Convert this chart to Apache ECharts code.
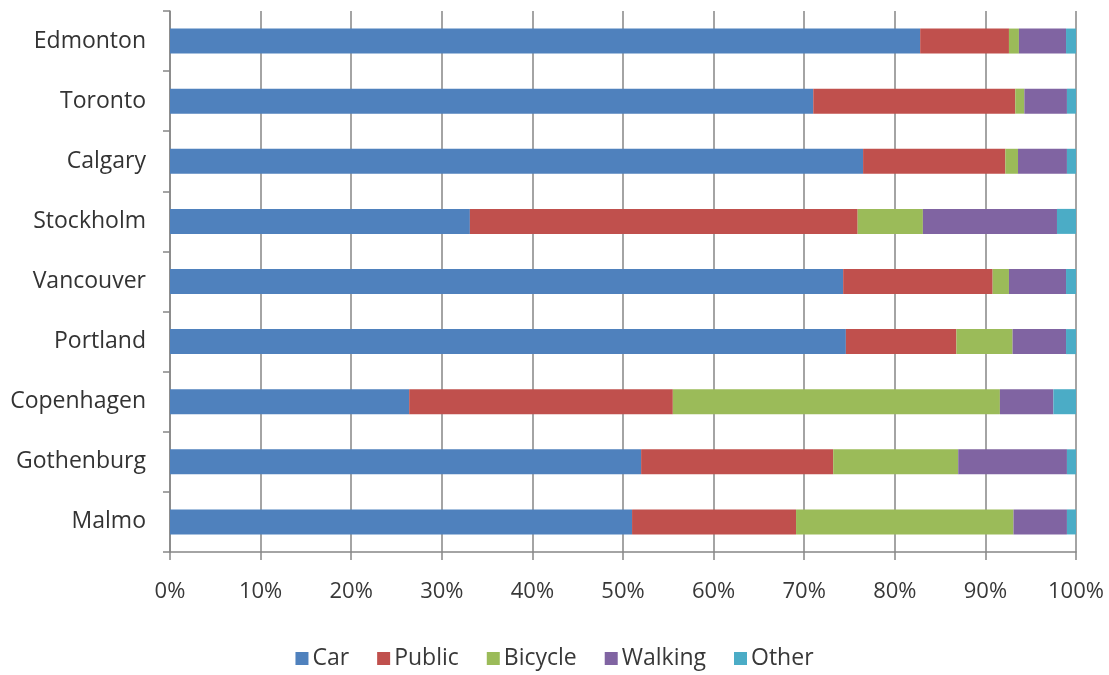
<!DOCTYPE html>
<html>
<head>
<meta charset="utf-8">
<script src="https://cdn.jsdelivr.net/npm/echarts@6/dist/echarts.min.js"></script>
<style>
  html, body { margin: 0; padding: 0; background: #ffffff; }
  #chart { width: 1109px; height: 675px; }
</style>
</head>
<body>
<div id="chart"></div>
<script>
// Modal split of trips by city (percent of trips)
const cities = ['Edmonton', 'Toronto', 'Calgary', 'Stockholm', 'Vancouver', 'Portland', 'Copenhagen', 'Gothenburg', 'Malmo'];
const car     = [82.8, 71.0, 76.5, 33.1, 74.3, 74.6, 26.4, 52.0, 51.0];
const publicT = [ 9.8, 22.3, 15.7, 42.8, 16.5, 12.2, 29.1, 21.2, 18.1];
const bicycle = [ 1.1,  1.0,  1.4,  7.2,  1.8,  6.2, 36.1, 13.8, 24.0];
const walking = [ 5.2,  4.7,  5.4, 14.8,  6.3,  5.9,  5.9, 12.0,  5.9];
const other   = [ 1.1,  1.0,  1.0,  2.1,  1.1,  1.1,  2.5,  1.0,  1.0];
const xTicks = [0, 10, 20, 30, 40, 50, 60, 70, 80, 90, 100];

const seriesDefs = [
  { name: 'Car',     data: car,     color: '#4F81BD' },
  { name: 'Public',  data: publicT, color: '#C0504D' },
  { name: 'Bicycle', data: bicycle, color: '#9BBB59' },
  { name: 'Walking', data: walking, color: '#8064A2' },
  { name: 'Other',   data: other,   color: '#4BACC6' }
];

const font = '"Open Sans", Lato, sans-serif';
const chart = echarts.init(document.getElementById('chart'), null, { renderer: 'canvas' });

chart.setOption({
  animation: false,
  backgroundColor: '#ffffff',
  grid: { left: 170, right: 33, top: 11, bottom: 123, containLabel: false },
  legend: {
    bottom: 0,
    left: 'center',
    icon: 'rect',
    itemWidth: 13,
    itemHeight: 13,
    itemGap: 28,
    textStyle: { fontFamily: font, fontSize: 23, color: '#383838', padding: [0, 0, 0, -1] },
    data: seriesDefs.map(s => s.name)
  },
  xAxis: {
    type: 'value',
    min: xTicks[0],
    max: xTicks[xTicks.length - 1],
    interval: xTicks[1] - xTicks[0],
    axisLine: { show: true, lineStyle: { color: '#868686', width: 1.5 } },
    axisTick: { show: true, length: 8, lineStyle: { color: '#868686', width: 1.5 } },
    splitLine: { show: true, lineStyle: { color: '#868686', width: 1.5 } },
    axisLabel: {
      formatter: '{value}%',
      fontFamily: font, fontSize: 22, color: '#383838', margin: 29
    }
  },
  yAxis: {
    type: 'category',
    data: cities,
    inverse: true,
    axisLine: { show: true, lineStyle: { color: '#868686', width: 1.5 } },
    axisTick: { show: true, length: 7, lineStyle: { color: '#868686', width: 1.5 } },
    axisLabel: { fontFamily: font, fontSize: 23, color: '#333333', margin: 24 }
  },
  series: seriesDefs.map(s => ({
    name: s.name,
    type: 'bar',
    stack: 'total',
    data: s.data,
    barWidth: 25,
    itemStyle: { color: s.color },
    emphasis: { disabled: true }
  }))
});
</script>
</body>
</html>
